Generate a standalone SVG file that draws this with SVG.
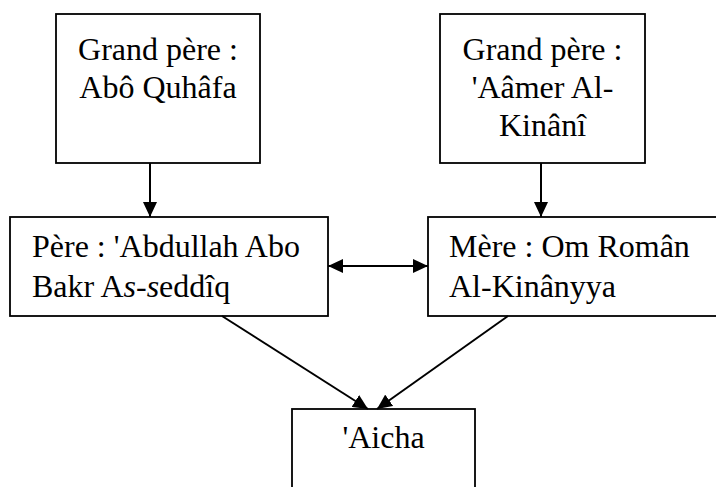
<svg xmlns="http://www.w3.org/2000/svg" width="716" height="487" viewBox="0 0 716 487">
<style>
.box{fill:#fff;stroke:#000;stroke-width:1.8}
text{font-family:'Liberation Serif','Times New Roman',Times,serif;font-size:32px;fill:#000}
.c{text-anchor:middle}
.conn{stroke:#000;stroke-width:2;fill:none}
</style>
<defs>
<marker id="ah" markerUnits="userSpaceOnUse" markerWidth="16" markerHeight="14" refX="15" refY="7" orient="auto-start-reverse">
<path d="M0,0 L15,7 L0,14 Z" fill="#000"/>
</marker>
</defs>
<rect width="716" height="487" fill="#fff"/>
<g id="gp1">
<rect class="box" x="56" y="14" width="204" height="149"/>
<text class="c" x="158" y="60">Grand père :</text>
<text class="c" x="158" y="98">Abô Quhâfa</text>
</g>
<g id="gp2">
<rect class="box" x="440" y="14" width="205" height="149"/>
<text class="c" x="542.5" y="60">Grand père :</text>
<text class="c" x="542.5" y="98">'Aâmer Al-</text>
<text class="c" x="542.5" y="136">Kinânî</text>
</g>
<g id="pere">
<rect class="box" x="10" y="217" width="318" height="99"/>
<text x="32" y="257">Père : 'Abdullah Abo</text>
<text x="32" y="297">Bakr A<tspan font-style="italic">s</tspan>-<tspan font-style="italic">s</tspan>eddîq</text>
</g>
<g id="mere">
<rect class="box" x="428" y="217" width="300" height="99"/>
<text x="449" y="257">Mère : Om Român</text>
<text x="449" y="297">Al-Kinânyya</text>
</g>
<g id="aicha">
<rect class="box" x="292" y="409" width="183" height="90"/>
<text class="c" x="383.5" y="448">'Aicha</text>
</g>
<g id="connectors">
<line class="conn" x1="150" y1="163" x2="150" y2="217" marker-end="url(#ah)"/>
<line class="conn" x1="541" y1="163" x2="541" y2="217" marker-end="url(#ah)"/>
<line class="conn" x1="328" y1="266" x2="428" y2="266" marker-start="url(#ah)" marker-end="url(#ah)"/>
<line class="conn" x1="222" y1="316" x2="368" y2="409" marker-end="url(#ah)"/>
<line class="conn" x1="508" y1="316" x2="377" y2="409" marker-end="url(#ah)"/>
</g>
</svg>
